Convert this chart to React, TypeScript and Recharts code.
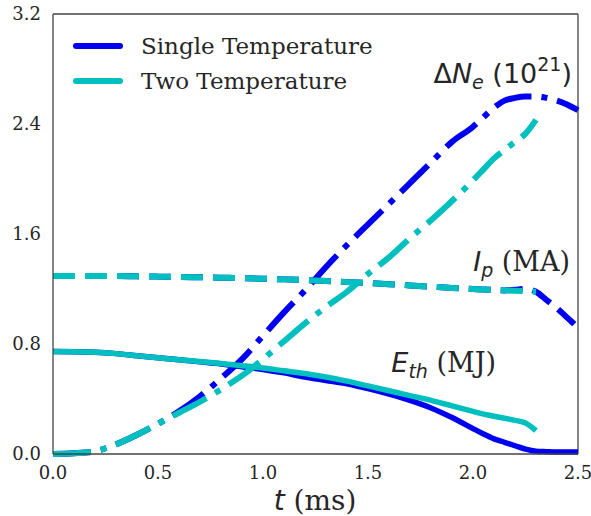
import { LineChart, Line, XAxis, YAxis, Legend, ReferenceLine } from 'recharts';

const TIME = [0, 0.1, 0.2, 0.3, 0.4, 0.5, 0.6, 0.7, 0.8, 0.9, 1.0, 1.1, 1.2, 1.3, 1.4, 1.5, 1.6, 1.7, 1.8, 1.9, 2.0, 2.05, 2.1, 2.15, 2.2, 2.25, 2.3, 2.35, 2.4, 2.45, 2.5];

const NE_SINGLE = [0, 0.005, 0.02, 0.07, 0.14, 0.22, 0.31, 0.42, 0.55, 0.69, 0.86, 1.03, 1.19, 1.36, 1.52, 1.67, 1.82, 1.97, 2.12, 2.27, 2.38, 2.45, 2.52, 2.57, 2.59, 2.6, 2.6, 2.59, 2.57, 2.54, 2.5];
const NE_TWO = [0, 0.005, 0.02, 0.07, 0.14, 0.22, 0.3, 0.38, 0.47, 0.57, 0.69, 0.82, 0.95, 1.07, 1.18, 1.31, 1.43, 1.57, 1.7, 1.84, 1.99, 2.07, 2.15, 2.21, 2.27, 2.33, 2.43, null, null, null, null];

const IP_SINGLE = [1.295, 1.295, 1.295, 1.294, 1.292, 1.29, 1.288, 1.285, 1.282, 1.279, 1.275, 1.27, 1.265, 1.258, 1.25, 1.243, 1.235, 1.226, 1.217, 1.208, 1.2, 1.196, 1.193, 1.19, 1.195, 1.2, 1.18, 1.12, 1.06, 0.99, 0.92];
const IP_TWO = [1.295, 1.295, 1.295, 1.294, 1.292, 1.29, 1.288, 1.285, 1.282, 1.279, 1.275, 1.27, 1.265, 1.258, 1.25, 1.243, 1.235, 1.226, 1.217, 1.208, 1.2, 1.196, 1.193, 1.19, 1.188, 1.185, 1.18, null, null, null, null];

const ETH_SINGLE = [0.745, 0.744, 0.74, 0.73, 0.715, 0.7, 0.685, 0.67, 0.655, 0.635, 0.615, 0.59, 0.56, 0.535, 0.51, 0.475, 0.435, 0.39, 0.335, 0.265, 0.185, 0.145, 0.11, 0.085, 0.06, 0.035, 0.02, 0.017, 0.015, 0.015, 0.015];
const ETH_TWO = [0.745, 0.744, 0.74, 0.73, 0.715, 0.7, 0.685, 0.672, 0.658, 0.642, 0.625, 0.605, 0.585, 0.56, 0.53, 0.495, 0.46, 0.425, 0.39, 0.35, 0.31, 0.29, 0.275, 0.26, 0.245, 0.225, 0.17, null, null, null, null];

const LEGEND_NAMES = ['Single Temperature', 'Two Temperature'];
const X_TICKS = [0, 0.5, 1.0, 1.5, 2.0, 2.5];
const Y_TICKS = [0, 0.8, 1.6, 2.4, 3.2];

const BLUE = '#0000f0';
const CYAN = '#00bfbf';
const TEXT = '#262626';
const SERIF = '"DejaVu Serif", serif';
const SANS = '"DejaVu Sans", sans-serif';

const data = TIME.map((t, i) => ({
  t,
  neS: NE_SINGLE[i],
  neT: NE_TWO[i],
  ipS: IP_SINGLE[i],
  ipT: IP_TWO[i],
  ethS: ETH_SINGLE[i],
  ethT: ETH_TWO[i],
}));

const tickStyle = { fill: TEXT, fontSize: 18, fontFamily: SERIF };

function LegendBox({ payload }: any) {
  const items = (payload || []).filter((p: any) => LEGEND_NAMES.includes(p.value));
  return (
    <div>
      {items.map((p: any) => (
        <div key={p.value} style={{ display: 'flex', alignItems: 'center', height: 35 }}>
          <svg width={50} height={10} style={{ display: 'block' }}>
            <line x1={3} y1={5} x2={47} y2={5} stroke={p.color} strokeWidth={6} strokeLinecap="round" />
          </svg>
          <span style={{ marginLeft: 18, fontFamily: SERIF, fontSize: 23, color: TEXT, whiteSpace: 'nowrap' }}>{p.value}</span>
        </div>
      ))}
    </div>
  );
}

export default function App() {
  return (
    <div style={{ position: 'absolute', left: 0, top: 0, width: 591, height: 516, background: '#fff' }}>
      <LineChart width={591} height={516} data={data} margin={{ top: 14, right: 13, left: 0, bottom: 0 }}>
        <XAxis
          dataKey="t"
          type="number"
          domain={[0, 2.5]}
          ticks={X_TICKS}
          tickFormatter={(v: number) => v.toFixed(1)}
          tick={tickStyle}
          tickLine={false}
          tickMargin={6}
          height={62}
          stroke="#444"
          strokeWidth={1.3}
        />
        <YAxis
          type="number"
          domain={[0, 3.2]}
          ticks={Y_TICKS}
          tickFormatter={(v: number) => v.toFixed(1)}
          tick={tickStyle}
          tickLine={false}
          tickMargin={6}
          width={53}
          stroke="#444"
          strokeWidth={1.3}
        />
        <ReferenceLine y={3.2} stroke="#444" strokeWidth={1.3} />
        <ReferenceLine x={2.5} stroke="#444" strokeWidth={1.3} />
        <Legend
          layout="vertical"
          align="center"
          verticalAlign="middle"
          content={<LegendBox />}
          wrapperStyle={{ left: 73, top: 28, width: 320, height: 70 }}
        />

        <Line dataKey="neS" name="Single Temperature" stroke={BLUE} strokeWidth={6} strokeDasharray="38 10 6 10" dot={false} type="monotone" isAnimationActive={false} />
        <Line dataKey="ipS" stroke={BLUE} strokeWidth={6} strokeDasharray="22 10" dot={false} type="monotone" legendType="none" isAnimationActive={false} />
        <Line dataKey="ethS" stroke={BLUE} strokeWidth={5.5} dot={false} type="monotone" legendType="none" isAnimationActive={false} />
        <Line dataKey="neT" name="Two Temperature" stroke={CYAN} strokeWidth={6} strokeDasharray="38 10 6 10" dot={false} type="monotone" isAnimationActive={false} />
        <Line dataKey="ipT" stroke={CYAN} strokeWidth={6} strokeDasharray="22 10" dot={false} type="monotone" legendType="none" isAnimationActive={false} />
        <Line dataKey="ethT" stroke={CYAN} strokeWidth={5.5} dot={false} type="monotone" legendType="none" isAnimationActive={false} />
      </LineChart>

      <svg width={591} height={516} style={{ position: 'absolute', left: 0, top: 0, pointerEvents: 'none' }}>
        <text x={572} y={83} textAnchor="end" fontFamily={SANS} fontSize={27} fill={TEXT}>
          Δ<tspan fontStyle="italic">N</tspan>
          <tspan fontSize={19} dy={6} fontStyle="italic">e</tspan>
          <tspan dy={-6}> (10</tspan>
          <tspan fontSize={19} dy={-12}>21</tspan>
          <tspan dy={12}>)</tspan>
        </text>
        <text x={570} y={271} textAnchor="end" fontFamily={SANS} fontSize={27} fill={TEXT}>
          <tspan fontStyle="italic">I</tspan>
          <tspan fontSize={19} dy={6} fontStyle="italic">p</tspan>
          <tspan dy={-6} fontFamily={SERIF}> (MA)</tspan>
        </text>
        <text x={496} y={372} textAnchor="end" fontFamily={SANS} fontSize={27} fill={TEXT}>
          <tspan fontStyle="italic">E</tspan>
          <tspan fontSize={19} dy={6} fontStyle="italic">th</tspan>
          <tspan dy={-6} fontFamily={SERIF}> (MJ)</tspan>
        </text>
        <text x={315} y={510} textAnchor="middle" fontFamily={SERIF} fontSize={28} fill={TEXT}>
          <tspan fontFamily={SANS} fontStyle="italic">t</tspan> (ms)
        </text>
      </svg>
    </div>
  );
}
